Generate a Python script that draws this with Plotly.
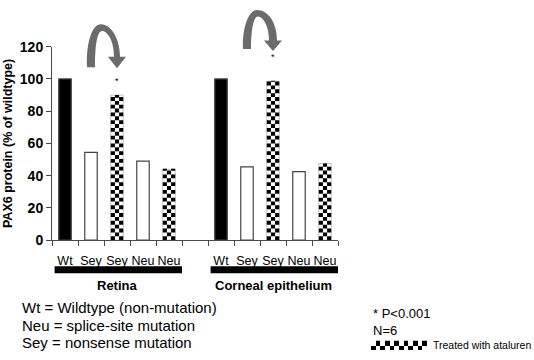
import plotly.graph_objects as go
import math

# ---------------- data ----------------
categories = ["Wt", "Sey", "Sey", "Neu", "Neu"]
tissues = ["Retina", "Corneal epithelium"]
retina_values = [100, 54.5, 90, 49, 44]
cornea_values = [100, 45.5, 98.5, 42.5, 47.5]
treated = [False, False, True, False, True]
retina_sig = ["", "", "*", "", ""]
cornea_sig = ["", "", "*", "", ""]
y_ticks = [0, 20, 40, 60, 80, 100, 120]
y_title = "PAX6 protein (% of wildtype)"
notes_left = ["Wt = Wildtype (non-mutation)", "Neu = splice-site mutation", "Sey = nonsense mutation"]
notes_right = ["* P<0.001", "N=6"]
treated_label = "Treated with ataluren"

# ---------------- style ----------------
W_PX, H_PX = 534, 360
FONT = "Liberation Sans"
BAR_W = 0.48
N_COLS = 3
CHECK_H = 2.4
AXIS_COLOR = "#4a4a4a"
ARROW_COLOR = "#6b6b6b"


def px(x):
    return x / W_PX


def py(y):
    return 1 - y / H_PX


groups = [retina_values, cornea_values]
sigs = [retina_sig, cornea_sig]
GROUP_GAP = len(categories) + 1

xs_plain, ys_plain, col_plain = [], [], []
xs_tr, ys_tr = [], []
seg_x, seg_base, seg_h = [], [], []
star_x, star_y = [], []
tick_pos, tick_text = [], []
for g, vals in enumerate(groups):
    for i, v in enumerate(vals):
        xpos = g * GROUP_GAP + i
        tick_pos.append(xpos)
        tick_text.append(categories[i])
        if treated[i]:
            xs_tr.append(xpos)
            ys_tr.append(v)
            n = math.ceil(v / CHECK_H)
            for j in range(N_COLS):
                cx = xpos - BAR_W / 2 + (j + 0.5) * BAR_W / N_COLS
                for k in range(n):
                    if (j + k) % 2 == 0:
                        b = k * CHECK_H
                        seg_x.append(cx)
                        seg_base.append(b)
                        seg_h.append(min(CHECK_H, v - b))
        else:
            xs_plain.append(xpos)
            ys_plain.append(v)
            col_plain.append("black" if categories[i] == "Wt" else "white")
        if sigs[g][i]:
            star_x.append(xpos)
            star_y.append(v)

fig = go.Figure()
fig.add_trace(go.Bar(x=xs_plain, y=ys_plain, width=BAR_W,
                     marker=dict(color=col_plain, line=dict(color="#444444", width=1.2)),
                     hoverinfo="skip", showlegend=False))
fig.add_trace(go.Bar(x=xs_tr, y=ys_tr, width=BAR_W,
                     marker=dict(color="white", line=dict(color="#9a9a9a", width=0.6)),
                     hoverinfo="skip", showlegend=False))
fig.add_trace(go.Bar(x=seg_x, y=seg_h, base=seg_base, width=BAR_W / N_COLS,
                     marker=dict(color="black", line=dict(width=0)),
                     hoverinfo="skip", showlegend=False))

# legend checker patch
fig.add_trace(go.Heatmap(z=[[(i + j) % 2 for i in range(12)] for j in range(2)],
                         colorscale=[[0, "black"], [1, "white"]], showscale=False,
                         hoverinfo="skip", xaxis="x3", yaxis="y3"))

boundaries = [p - 0.5 for p in range(2 * GROUP_GAP)]
bound_vals = [b for b in boundaries if b <= tick_pos[-1] + 0.5]

fig.update_layout(
    width=W_PX, height=H_PX,
    margin=dict(l=0, r=0, t=0, b=0),
    paper_bgcolor="white", plot_bgcolor="white",
    barmode="overlay",
    font=dict(family=FONT, color="black"),
    xaxis=dict(domain=[px(52), px(338)], range=[-0.5, tick_pos[-1] + 0.5],
               tickmode="array", tickvals=tick_pos, ticktext=tick_text, ticks="",
               tickfont=dict(size=12.5), ticklabelstandoff=9,
               showline=True, linecolor=AXIS_COLOR, linewidth=1,
               showgrid=False, zeroline=False,
               minor=dict(tickmode="array", tickvals=bound_vals, ticks="outside",
                          ticklen=5, tickcolor=AXIS_COLOR, tickwidth=1, showgrid=False)),
    yaxis=dict(domain=[py(243), py(40.5)], range=[0, 120],
               tickmode="array", tickvals=y_ticks, ticks="outside", ticklen=5,
               tickcolor=AXIS_COLOR, tickfont=dict(size=14, weight="bold"),
               showline=True, linecolor=AXIS_COLOR, linewidth=1,
               showgrid=False, zeroline=False,
               title=dict(text=y_title, font=dict(size=12.5, weight="bold"), standoff=4)),
    xaxis3=dict(domain=[px(371), px(427)], visible=False, anchor="y3"),
    yaxis3=dict(domain=[py(358), py(348)], visible=False, anchor="x3"),
)

# significance stars
for (sx, sy), shift in zip(zip(star_x, star_y), [14, 24]):
    fig.add_annotation(x=sx, y=sy, text="*", showarrow=False, yshift=shift,
                       font=dict(size=9), xanchor="center", yanchor="middle")

# group bars and labels
for g, name in enumerate(tissues):
    first = g * GROUP_GAP
    last = first + len(categories) - 1
    fig.add_shape(type="line", xref="x", yref="paper", x0=first - 0.4, x1=last + 0.5,
                  y0=py(274), y1=py(274), line=dict(color="black", width=7))
    fig.add_annotation(xref="x", yref="paper", x=(first + last) / 2, y=py(290),
                       text=f"<b>{name}</b>", showarrow=False, font=dict(size=13),
                       xanchor="center", yanchor="middle")


def path_px(cmds):
    out = []
    for c, pts in cmds:
        out.append(c + " " + " ".join(f"{px(a):.5f},{py(b):.5f}" for a, b in pts))
    return " ".join(out) + " Z"


arrows = [
    [("M", [(87, 62)]), ("C", [(86, 36), (92, 17), (101, 17)]),
     ("C", [(111, 17), (120, 32), (120, 51)]), ("L", [(126, 51)]), ("L", [(117, 63)]),
     ("L", [(108, 51)]), ("L", [(114, 51)]), ("C", [(114, 35), (108, 24), (102, 24)]),
     ("C", [(97, 24), (95, 40), (95, 62)])],
    [("M", [(243, 43)]), ("C", [(242, 20), (249, 2), (257, 2)]),
     ("C", [(268, 2), (277, 15), (277, 34)]), ("L", [(282, 34)]), ("L", [(273, 45)]),
     ("L", [(264, 34)]), ("L", [(269, 34)]), ("C", [(269, 19), (263, 9), (258, 9)]),
     ("C", [(253, 9), (251, 25), (251, 43)])],
]
for a in arrows:
    fig.add_shape(type="path", xref="paper", yref="paper", path=path_px(a),
                  fillcolor=ARROW_COLOR, line=dict(width=0))

# notes
for txt, yy in zip(notes_left, [313, 332, 350]):
    fig.add_annotation(xref="paper", yref="paper", x=px(20), y=py(yy), text=txt,
                       showarrow=False, xanchor="left", yanchor="middle", font=dict(size=15))
for txt, yy in zip(notes_right, [320, 337]):
    fig.add_annotation(xref="paper", yref="paper", x=px(371), y=py(yy), text=txt,
                       showarrow=False, xanchor="left", yanchor="middle", font=dict(size=13))
fig.add_annotation(xref="paper", yref="paper", x=px(431), y=py(353), text=treated_label,
                   showarrow=False, xanchor="left", yanchor="middle", font=dict(size=10.5))

fig.write_html("out.html", config={"displayModeBar": False},
               post_script="document.body.style.margin='0px';document.body.style.overflow='hidden';")
